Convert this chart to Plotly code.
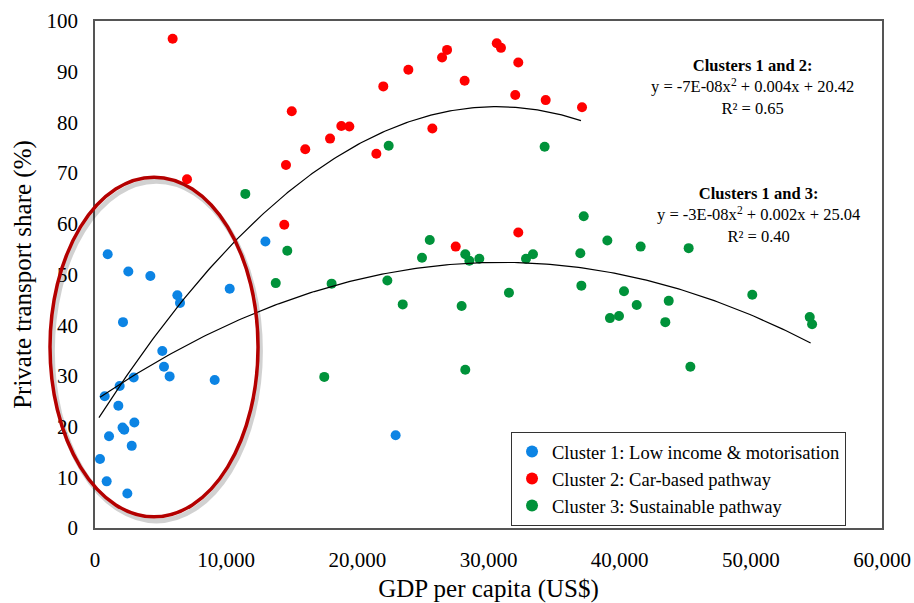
import numpy as np
import plotly.graph_objects as go

# ---------------- data ----------------
c1_gdp = [968, 2540, 4220, 6280, 10270, 12990, 6480, 2135, 5130, 5260, 5690, 9125,
          2950, 1880, 740, 1780, 2100, 2230, 3000, 1070, 2800, 380, 890, 2465, 22920]
c1_share = [54.0, 50.6, 49.7, 45.9, 47.2, 56.5, 44.4, 40.6, 34.9, 31.8, 29.9, 29.2,
            29.7, 28.0, 26.0, 24.1, 19.8, 19.4, 20.8, 18.1, 16.2, 13.6, 9.2, 6.8, 18.3]

c2_gdp = [5920, 15000, 16030, 14560, 7015, 14430, 17920, 18780, 19390, 21450, 21980,
          23890, 25720, 26460, 26840, 28180, 30630, 30950, 32270, 32040, 34360, 37130,
          27500, 32270]
c2_share = [96.5, 82.2, 74.7, 71.6, 68.8, 59.8, 76.8, 79.3, 79.2, 73.8, 87.1,
            90.4, 78.8, 92.8, 94.3, 88.2, 95.6, 94.7, 91.8, 85.4, 84.4, 83.0,
            55.5, 58.3]

c3_gdp = [11460, 14660, 13780, 22390, 34280, 37260, 25520, 39060, 24930, 28230, 28540,
          29300, 32860, 33390, 37000, 18040, 22290, 31560, 37080, 23460, 27950, 39260,
          39950, 17480, 28230, 41600, 45260, 40330, 50110, 41300, 43740, 43480, 54490,
          54670, 45390]
c3_share = [65.9, 54.7, 48.3, 75.4, 75.2, 61.5, 56.8, 56.7, 53.3, 54.0, 52.7,
            53.1, 53.1, 54.0, 54.2, 48.2, 48.8, 46.4, 47.8, 44.1, 43.8, 41.4,
            41.8, 29.8, 31.2, 55.5, 55.2, 46.7, 46.0, 44.0, 44.8, 40.6, 41.6,
            40.2, 31.8]

# trend-line coefficients (a, b, c) of y = a x^2 + b x + c, and plotted x-extent
fit12_coef = [-6.67e-8, 0.004085, 20.56]
fit12_range = [300, 37050]
fit13_coef = [-2.85e-8, 0.001763, 25.13]
fit13_range = [380, 54560]

series_names = ["Cluster 1: Low income & motorisation",
                "Cluster 2: Car-based pathway",
                "Cluster 3: Sustainable pathway"]
series_colors = ["#0C84E4", "#FF0000", "#00923A"]

x_ticks = [0, 10000, 20000, 30000, 40000, 50000, 60000]
x_tick_text = ["0", "10,000", "20,000", "30,000", "40,000", "50,000", "60,000"]
y_ticks = [0, 10, 20, 30, 40, 50, 60, 70, 80, 90, 100]

eq12_text = "<b>Clusters 1 and 2:</b><br>y = -7E-08x<sup>2</sup> + 0.004x + 20.42<br>R² = 0.65"
eq13_text = "<b>Clusters 1 and 3:</b><br>y = -3E-08x<sup>2</sup> + 0.002x + 25.04<br>R² = 0.40"

# highlighted region (ellipse) in data units: centre and half-axes
ellipse_center = [4500, 35.7]
ellipse_half = [7930, 33.5]

XR = [0, 60000]
YR = [0, 100]
FONT = "Liberation Serif, Times New Roman, serif"

fig = go.Figure()

for gx, gy, nm, col in zip([c1_gdp, c2_gdp, c3_gdp], [c1_share, c2_share, c3_share],
                           series_names, series_colors):
    fig.add_trace(go.Scatter(x=gx, y=gy, mode="markers", name=nm,
                             marker=dict(color=col, size=10, line=dict(width=0))))

for coef, rng in [(fit12_coef, fit12_range), (fit13_coef, fit13_range)]:
    xs = np.linspace(rng[0], rng[1], 200)
    ys = coef[0] * xs ** 2 + coef[1] * xs + coef[2]
    fig.add_trace(go.Scatter(x=xs, y=ys, mode="lines", showlegend=False,
                             line=dict(color="black", width=1.2), hoverinfo="skip"))

def to_px(xd, yd):
    return (xd - XR[0]) / (XR[1] - XR[0]), (yd - YR[0]) / (YR[1] - YR[0])

ex0, ey0 = to_px(ellipse_center[0] - ellipse_half[0], ellipse_center[1] - ellipse_half[1])
ex1, ey1 = to_px(ellipse_center[0] + ellipse_half[0], ellipse_center[1] + ellipse_half[1])
# soft shadow
fig.add_shape(type="circle", xref="paper", yref="paper",
              x0=ex0 + 0.003, x1=ex1 + 0.003, y0=ey0 - 0.008, y1=ey1 - 0.008,
              line=dict(color="rgba(0,0,0,0.18)", width=5), layer="above")
fig.add_shape(type="circle", xref="paper", yref="paper",
              x0=ex0, x1=ex1, y0=ey0, y1=ey1,
              line=dict(color="#B40000", width=3.5), layer="above")

fig.add_annotation(x=50100, y=87.0, text=eq12_text, showarrow=False,
                   font=dict(family=FONT, size=16.5, color="black"), align="center")
fig.add_annotation(x=50600, y=61.7, text=eq13_text, showarrow=False,
                   font=dict(family=FONT, size=16.5, color="black"), align="center")

fig.update_layout(
    width=914, height=603,
    margin=dict(l=95, r=32, t=21, b=75),
    paper_bgcolor="white", plot_bgcolor="white",
    font=dict(family=FONT, size=21, color="black"),
    showlegend=True,
    legend=dict(x=0.5286, y=0.004, xanchor="left", yanchor="bottom",
                bordercolor="#333333", borderwidth=1, bgcolor="white",
                font=dict(family=FONT, size=18.5, color="black"),
                itemsizing="constant", tracegroupgap=0),
    xaxis=dict(range=XR, tickvals=x_ticks, ticktext=x_tick_text, showgrid=False,
               zeroline=False, showline=True, linecolor="#555555", linewidth=1.5,
               mirror=True, ticks="", ticklabelstandoff=12, automargin=False,
               title=dict(text="GDP per capita (US$)", font=dict(family=FONT, size=25), standoff=14)),
    yaxis=dict(range=YR, tickvals=y_ticks, showgrid=False, zeroline=False,
               showline=True, linecolor="#555555", linewidth=1.5, mirror=True,
               ticks="", ticklabelstandoff=11, automargin=False,
               title=dict(text="Private transport share (%)", font=dict(family=FONT, size=25), standoff=8)),
)

fig.write_html("out.html")
